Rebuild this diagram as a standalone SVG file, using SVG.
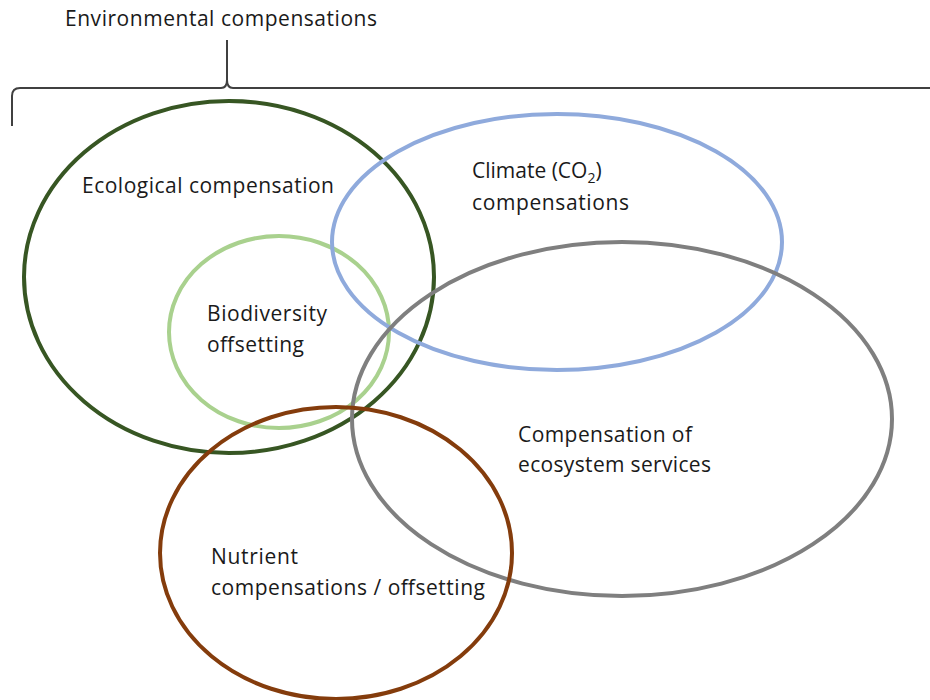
<svg xmlns="http://www.w3.org/2000/svg" width="930" height="700" viewBox="0 0 930 700">
<style>
.t{font-family:"Open Sans","Liberation Sans",sans-serif;font-size:21px;fill:#1a1a1a}
.e{fill:none;stroke-width:4}
</style>
<rect width="930" height="700" fill="#fff"/>
<g id="connectors">
<path d="M12,126 L12,96 Q12,88 20,88 L221,88 Q227,88 227,80 L227,40 L227,80 Q227,88 233,88 L930,88" fill="none" stroke="#404040" stroke-width="2"/>
</g>
<g id="title"><text class="t" x="65" y="26" textLength="312">Environmental compensations</text></g>
<g id="ecological">
<ellipse class="e" cx="229" cy="277" rx="205" ry="176" stroke="#375623"/>
<text class="t" x="82" y="193" textLength="252">Ecological compensation</text>
</g>
<g id="biodiversity">
<ellipse class="e" cx="279" cy="332" rx="110" ry="96" stroke="#a9d18e"/>
<text class="t" x="207" y="321" textLength="120">Biodiversity</text>
<text class="t" x="207" y="352" textLength="97">offsetting</text>
</g>
<g id="climate">
<ellipse class="e" cx="557" cy="242" rx="225" ry="128" stroke="#8faadc"/>
<text class="t" x="472" y="178">Climate (CO<tspan font-size="14" dy="5">2</tspan><tspan dy="-5">)</tspan></text>
<text class="t" x="472" y="210" textLength="157">compensations</text>
</g>
<g id="ecosystem">
<ellipse class="e" cx="622" cy="419" rx="270" ry="177" stroke="#7f7f7f"/>
<text class="t" x="518" y="442" textLength="174">Compensation of</text>
<text class="t" x="518" y="472" textLength="193">ecosystem services</text>
</g>
<g id="nutrient">
<ellipse class="e" cx="336" cy="553" rx="176" ry="146" stroke="#843c0c"/>
<text class="t" x="211" y="564" textLength="87">Nutrient</text>
<text class="t" x="211" y="595" textLength="274">compensations / offsetting</text>
</g>
</svg>
